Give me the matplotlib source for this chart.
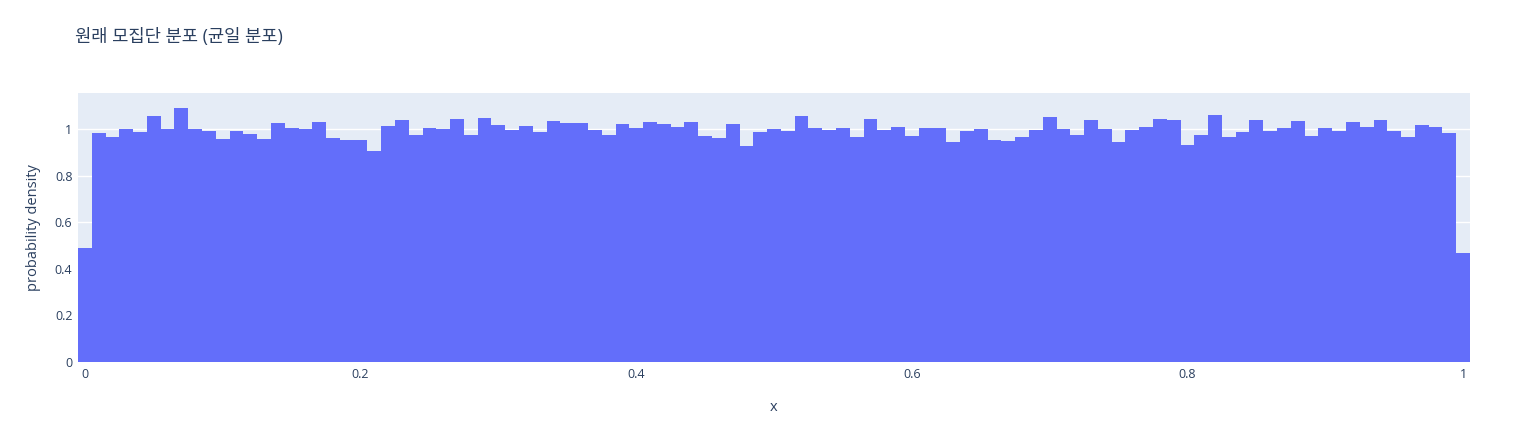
import numpy as np
import matplotlib.pyplot as plt

plt.rcParams['font.family'] = ['Open Sans', 'Noto Sans CJK KR', 'DejaVu Sans']

# histogram bin centres (width 0.01) and density values
bin_width = 0.01
centers = np.round(np.arange(101) * bin_width, 2)
density = [0.49,
           0.984, 0.967, 1.001, 0.989, 1.057, 1.001, 1.092, 1.001, 0.993, 0.959,
           0.993, 0.980, 0.959, 1.027, 1.006, 1.001, 1.031, 0.963, 0.954, 0.954,
           0.907, 1.014, 1.040, 0.976, 1.006, 1.001, 1.044, 0.976, 1.049, 1.019,
           0.997, 1.014, 0.989, 1.036, 1.027, 1.027, 0.997, 0.976, 1.023, 1.006,
           1.031, 1.023, 1.010, 1.031, 0.971, 0.963, 1.023, 0.929, 0.989, 1.001,
           0.993, 1.057, 1.006, 0.997, 1.006, 0.967, 1.044, 0.997, 1.010, 0.971,
           1.006, 1.006, 0.946, 0.993, 1.001, 0.954, 0.950, 0.967, 0.997, 1.053,
           1.001, 0.976, 1.040, 1.001, 0.946, 0.997, 1.010, 1.044, 1.040, 0.933,
           0.976, 1.061, 0.967, 0.989, 1.040, 0.993, 1.006, 1.036, 0.971, 1.006,
           0.993, 1.031, 1.010, 1.040, 0.993, 0.967, 1.019, 1.010, 0.984,
           0.47]
yticks = [0, 0.2, 0.4, 0.6, 0.8, 1]
xticks = [0, 0.2, 0.4, 0.6, 0.8, 1]

txt = '#2a3f5f'
fig = plt.figure(figsize=(15.4, 4.34), dpi=100)
ax = fig.add_axes([78/1540, 72/434, 1392/1540, 269/434])
ax.set_facecolor('#e5ecf6')
ax.bar(centers, density, width=bin_width, color='#636efa', linewidth=0, zorder=2)
ax.set_xlim(-0.005, 1.005)
ax.set_ylim(0, 1.155)
ax.set_yticks(yticks)
ax.set_yticklabels(['0' if v == 0 else ('1' if v == 1 else str(v)) for v in yticks])
ax.set_xticks(xticks)
ax.set_xticklabels(['0' if v == 0 else ('1' if v == 1 else str(v)) for v in xticks])
ax.grid(axis='y', color='white', linewidth=1, zorder=1)
ax.set_axisbelow(True)
for s in ax.spines.values():
    s.set_visible(False)
ax.tick_params(length=0, labelsize=9, colors=txt, pad=4)
ax.set_xlabel('x', fontsize=10.5, color=txt, labelpad=14)
ax.set_ylabel('probability density', fontsize=10.5, color=txt, labelpad=10)
fig.text(75/1540, 1 - 37/434, '원래 모집단 분포 (균일 분포)', fontsize=12.75, color=txt, va='center')
fig.savefig('out.png')
